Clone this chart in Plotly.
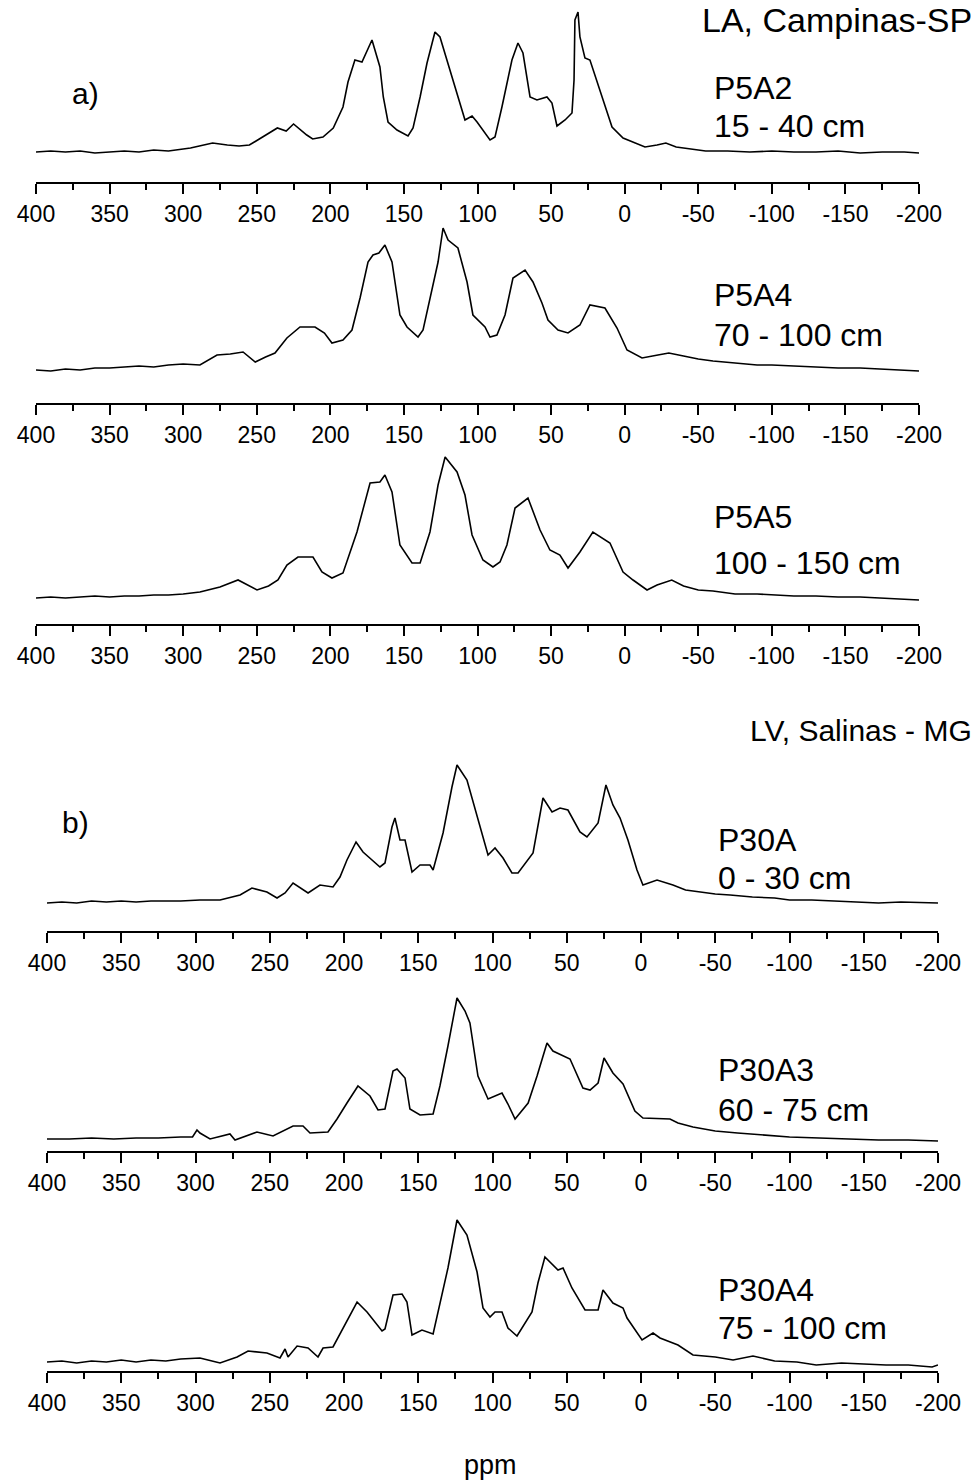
import plotly.graph_objects as go

# ---------------- data (chemical shift in ppm, intensity in arbitrary units) ----------------
tick_vals = [400, 350, 300, 250, 200, 150, 100, 50, 0, -50, -100, -150, -200]
tick_text = ["400", "350", "300", "250", "200", "150", "100", "50", "0", "-50", "-100", "-150", "-200"]
minor_vals = [375, 325, 275, 225, 175, 125, 75, 25, -25, -75, -125, -175]

p5a2_ppm = [400, 390, 380, 370, 360, 350, 340, 330, 320, 310,
            300, 295, 289, 280, 270, 262, 255, 246, 236, 230,
            225, 216, 212, 205, 198, 191.4, 188, 183.3, 178.5, 171.7,
            166.3, 164, 160.8, 154.7, 147.2, 143.8, 139, 134.3, 128.9, 125.5,
            120.7, 115.3, 108.5, 103.7, 100.3, 91.5, 88.1, 83.4, 76.6, 72.5,
            69.1, 64.3, 59.6, 52.8, 49.4, 46, 40.5, 35.8, 34.4, 33.8,
            31.7, 30.4, 27, 23.6, 16.8, 8.6, 1.1, -5, -13.8, -22,
            -28, -35, -45, -55, -70, -85, -100, -115, -130, -145,
            -160, -175, -190, -200]
p5a2_int = [30, 31, 30, 31, 29, 30, 31, 30, 32, 31,
            33, 34, 36, 39, 37, 36, 37, 45, 54, 51,
            58, 47, 43, 45, 54, 75, 100, 122, 120, 142,
            115, 85, 60, 52, 46, 54, 85, 119, 150, 145,
            122, 97, 62, 66, 60, 42, 45, 75, 122, 139,
            129, 85, 82, 85, 79, 56, 62, 69, 102, 162,
            170, 145, 124, 122, 92, 55, 44, 40, 35, 37,
            39, 35, 33, 31, 31, 30, 31, 30, 30, 31,
            29, 30, 30, 29]

p5a4_ppm = [400, 390, 380, 370, 360, 350, 340, 330, 320, 310,
            300, 288.6, 277, 268, 259.3, 251, 244, 237.6, 229.5, 220.6,
            210.4, 204, 198.9, 191.4, 185.3, 179.8, 174.4, 171, 167, 162.9,
            158.1, 152.7, 147.9, 140.4, 137, 132.3, 126.8, 123.4, 120, 113.3,
            107.1, 103.1, 94.9, 91.5, 86.8, 81.3, 75.9, 67.7, 62.3, 56.2,
            52.1, 45.3, 38.5, 30.4, 23.6, 13.4, 5.2, -1.6, -11.8, -22.6,
            -30, -40, -50, -60, -75, -90, -100, -115, -130, -145,
            -160, -175, -190, -200]
p5a4_int = [33, 32, 34, 33, 35, 35, 36, 37, 36, 38,
            39, 38, 48, 49, 51, 41, 46, 50, 65, 76,
            76, 70, 60, 63, 73, 105, 141, 148, 150, 158,
            141, 88, 76, 66, 73, 105, 141, 175, 163, 155,
            121, 88, 76, 66, 68, 88, 125, 133, 121, 100,
            83, 73, 70, 78, 98, 95, 75, 53, 45, 48,
            50, 47, 44, 42, 40, 38, 38, 37, 36, 35,
            35, 34, 33, 32]

p5a5_ppm = [400, 390, 380, 370, 360, 350, 340, 330, 320, 310,
            300, 288.6, 275, 262.7, 249.8, 242, 235.6, 229.5, 222, 211.8,
            205.7, 198.9, 191.4, 181.9, 173, 166.3, 162.9, 158.1, 152.7, 144.5,
            139, 132.3, 126.8, 122, 113.9, 108.5, 103.7, 96.3, 89.5, 84.7,
            80, 74.5, 65.7, 57.5, 50.8, 44, 38.5, 30.4, 21.6, 10,
            1.1, -5.7, -15.2, -22, -32, -40, -50, -60, -75, -90,
            -100, -115, -130, -145, -160, -175, -190, -200]
p5a5_int = [26, 27, 26, 27, 28, 27, 28, 28, 29, 29,
            30, 32, 37, 44, 34, 38, 44, 59, 67, 67,
            52, 46, 51, 92, 141, 142, 149, 132, 79, 61,
            61, 92, 139, 167, 152, 129, 89, 64, 57, 62,
            79, 116, 126, 94, 74, 69, 56, 72, 92, 81,
            52, 44, 34, 39, 44, 38, 34, 33, 30, 30,
            29, 28, 28, 27, 27, 26, 25, 24]

p30a_ppm = [400, 390, 380, 370, 360, 350, 340, 330, 320, 310,
            297, 283.5, 270, 262, 251.9, 245.1, 239.7, 234.3, 224.2, 216.2,
            207.4, 202.7, 198, 191.9, 187.2, 175.8, 172.4, 167.7, 165.7, 162.3,
            158.9, 154.2, 148.8, 142.1, 140, 133.3, 127.3, 123.9, 117.2, 110.4,
            103, 98.3, 92.9, 86.9, 82.8, 72.7, 66, 59.9, 54.5, 49.2,
            41.1, 36.4, 28.9, 23.6, 18.9, 14.1, 8.8, 2.7, -1.3, -10.8,
            -21.5, -30, -40, -50, -60, -75, -90, -100, -115, -130,
            -145, -160, -175, -190, -200]
p30a_int = [28, 29, 28, 30, 29, 30, 29, 30, 30, 30,
            31, 31, 36, 43, 39, 33, 38, 48, 38, 46,
            44, 54, 71, 89, 79, 64, 68, 104, 113, 91,
            91, 59, 66, 66, 61, 98, 144, 166, 151, 114,
            76, 83, 73, 58, 58, 78, 133, 119, 123, 121,
            99, 94, 108, 146, 126, 113, 91, 61, 46, 51,
            46, 41, 39, 37, 36, 34, 33, 31, 31, 30,
            29, 28, 29, 28, 28]

p30a3_ppm = [400, 385, 370, 355, 340, 325, 310, 302, 299, 297,
             290.2, 276.8, 273.4, 258.6, 247.8, 234.3, 227.6, 222.9, 210.8, 204.7,
             198, 190.6, 182.5, 177.1, 172.4, 167, 164.3, 158.9, 155.6, 148.8,
             140, 135.4, 130, 123.9, 118.5, 115.2, 109.8, 103, 93.6, 89.6,
             84.8, 76, 70, 63.3, 59.3, 47.8, 39.1, 34.3, 28.9, 24.9,
             18.9, 12.1, 4.1, -1.3, -19.5, -24.9, -35, -50, -65, -80,
             -100, -120, -140, -160, -180, -200]
p30a3_int = [12, 12, 13, 12, 13, 13, 14, 14, 21, 18,
             12, 17, 11, 19, 15, 25, 25, 18, 19, 32,
             48, 65, 55, 41, 42, 80, 82, 73, 42, 36,
             37, 65, 105, 153, 140, 128, 75, 52, 58, 47,
             32, 48, 75, 108, 100, 92, 63, 61, 68, 93,
             78, 67, 40, 33, 32, 28, 24, 20, 18, 16,
             14, 13, 12, 11, 11, 10]

p30a4_ppm = [400, 390, 380, 370, 360, 350, 340, 330, 320, 310,
             297, 283.5, 272, 264.6, 251.9, 243.1, 239.7, 237.7, 231.6, 224.2,
             217.5, 214.1, 207.4, 200.7, 191.2, 184.5, 174.4, 172.4, 167, 160.9,
             157.6, 154.2, 147.5, 140, 135.4, 130, 123.9, 117.2, 110.4, 106.4,
             101.7, 98.3, 93.6, 89.6, 83.5, 73.4, 69.4, 64.7, 55.9, 52.5,
             46.5, 37.7, 28.9, 25.6, 18.9, 12.1, 9.4, -0.7, -8.1, -12.8,
             -24.9, -35, -50, -62, -75.4, -90, -105, -118, -135, -150,
             -165, -180, -196, -200]
p30a4_int = [9, 10, 8, 10, 9, 11, 9, 11, 10, 12,
             13, 8, 14, 20, 18, 13, 22, 14, 25, 23,
             14, 23, 24, 43, 69, 59, 40, 42, 76, 77,
             69, 36, 41, 37, 66, 103, 151, 136, 99, 63,
             54, 59, 59, 43, 35, 59, 88, 114, 101, 103,
             83, 61, 61, 81, 68, 63, 53, 31, 38, 33,
             26, 16, 14, 11, 15, 10, 9, 6, 8, 7,
             6, 6, 4, 6]

sample_names = ["P5A2", "P5A4", "P5A5", "P30A", "P30A3", "P30A4"]
depths = ["15 - 40 cm", "70 - 100 cm", "100 - 150 cm", "0 - 30 cm", "60 - 75 cm", "75 - 100 cm"]
site_a = "LA, Campinas-SP"
site_b = "LV, Salinas - MG"

spectra = [(p5a2_ppm, p5a2_int), (p5a4_ppm, p5a4_int), (p5a5_ppm, p5a5_int),
           (p30a_ppm, p30a_int), (p30a3_ppm, p30a3_int), (p30a4_ppm, p30a4_int)]

# ---------------- layout (pixels) ----------------
W, H = 976, 1484
FONT = "Liberation Sans, Arial, sans-serif"
axis_y = [182, 403, 624, 931, 1151, 1371]          # pixel row of each x-axis line
x_span = [(36, 919)] * 3 + [(47, 938)] * 3          # pixel columns of 400 and -200
panel_h = 182                                       # pixel height of each panel
label_pos = [(712, 88, 126), (712, 295, 335), (712, 517, 563),
             (716, 840, 878), (716, 1070, 1110), (716, 1290, 1328)]

fig = go.Figure()
layout = dict(width=W, height=H,
              margin=dict(l=0, r=0, t=0, b=0, pad=0, autoexpand=False),
              paper_bgcolor="white", plot_bgcolor="white", showlegend=False)

def py(p):
    return 1 - p / H

for i, (ppm, inten) in enumerate(spectra):
    n = "" if i == 0 else str(i + 1)
    fig.add_trace(go.Scatter(x=ppm, y=inten, mode="lines",
                             line=dict(color="black", width=1.6),
                             xaxis="x" + n, yaxis="y" + n, hoverinfo="skip"))
    x0, x1 = x_span[i]
    layout["xaxis" + n] = dict(
        domain=[x0 / W, x1 / W], anchor="y" + n, range=[400, -200],
        automargin=False,
        showline=True, linecolor="black", linewidth=1.8, mirror=False,
        showgrid=False, zeroline=False,
        ticks="outside", ticklen=10, tickwidth=1.8, tickcolor="black",
        tickvals=tick_vals, ticktext=tick_text,
        tickfont=dict(family=FONT, size=23, color="black"),
        minor=dict(tickvals=minor_vals,
                   ticks="outside", ticklen=6, tickwidth=1.8, tickcolor="black"),
    )
    layout["yaxis" + n] = dict(
        domain=[py(axis_y[i]), py(axis_y[i] - panel_h)], anchor="x" + n,
        automargin=False,
        range=[0, panel_h], visible=False, showgrid=False, zeroline=False,
    )

ann = []
def txt(s, x, y, size=32, xanchor="left"):
    ann.append(dict(text=s, x=x / W, y=py(y), xref="paper", yref="paper",
                    xanchor=xanchor, yanchor="middle", showarrow=False,
                    font=dict(family=FONT, size=size, color="black")))

for i in range(6):
    lx, y1, y2 = label_pos[i]
    txt(sample_names[i], lx, y1)
    txt(depths[i], lx, y2)
txt(site_a, 974, 20, size=34, xanchor="right")
txt(site_b, 974, 730, size=30, xanchor="right")
txt("a)", 70, 93, size=30)
txt("b)", 60, 822, size=30)
txt("ppm", 491, 1465, size=27, xanchor="center")

layout["annotations"] = ann
fig.update_layout(**layout)
fig.write_html("out.html")
